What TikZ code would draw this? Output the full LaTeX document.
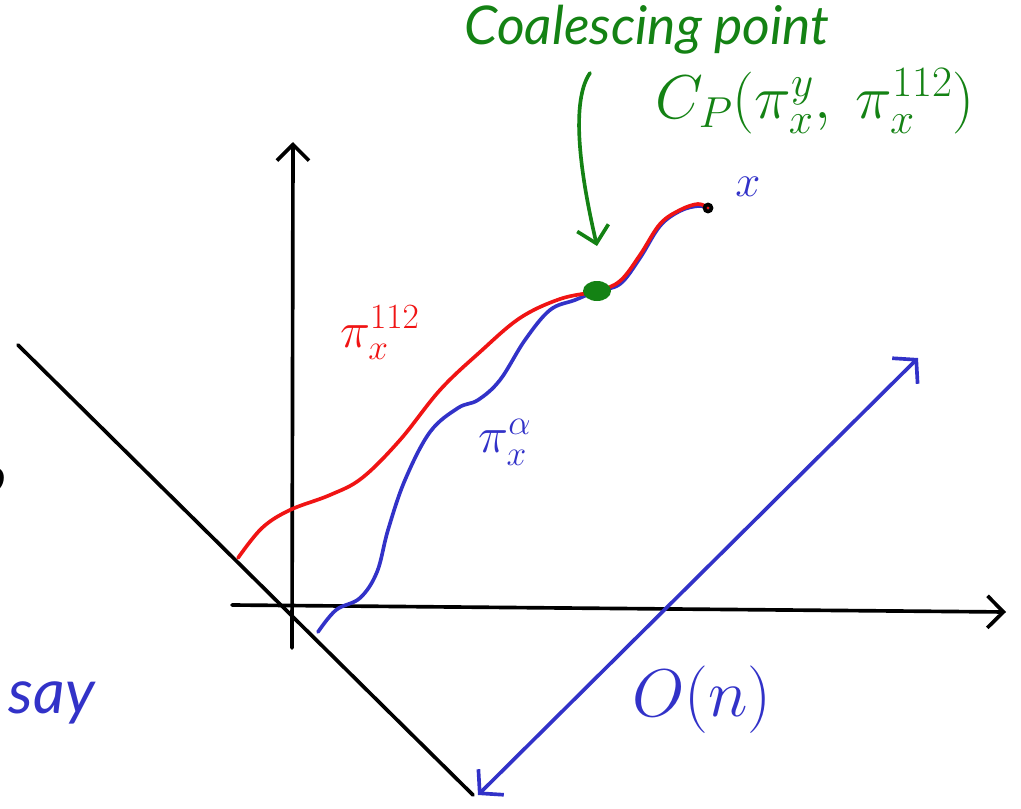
\RequirePackage{fix-cm}
\documentclass[tikz,border=0pt]{standalone}
\usepackage{fontspec}
\setmainfont{Lato}
\usetikzlibrary{arrows.meta}
\definecolor{penred}{RGB}{240,20,20}
\definecolor{penblue}{RGB}{50,50,200}
\definecolor{pengreen}{RGB}{20,130,20}
\tikzset{
  pen/.style={line width=2.6pt,line cap=round,line join=round},
  barb/.style={-{Straight Barb[length=4mm,width=8mm,line width=2.6pt]}},
  hand/.style={font=\itshape\fontsize{#1}{#1}\selectfont,inner sep=0pt},
}
\begin{document}
\begin{tikzpicture}[x=0.025cm,y=-0.025cm]
\useasboundingbox (0,0) rectangle (1021,809);

% ---- axes ----
\coordinate (O) at (292,608);
\coordinate (ybot) at (292,648);
\coordinate (ytop) at (293,142);
\coordinate (xleft) at (232,605);
\coordinate (xright) at (1006,612);
\draw[pen,barb] (ybot) -- (ytop);
\draw[pen,barb] (xleft) -- (xright);

% diagonal line through the origin
\coordinate (dtop) at (18,345);
\coordinate (dbot) at (473,795);
\draw[pen] (dtop) -- (dbot);

% ---- the scale O(n) (blue, both ways) ----
\coordinate (sA) at (478,795);
\coordinate (sB) at (918,358);
\draw[pen,penblue,{Straight Barb[length=4mm,width=9mm,line width=2.6pt]}-{Straight Barb[length=4mm,width=9mm,line width=2.6pt]}] (sA) -- (sB);
\node[hand=48,penblue] (order) at (702,700) {$O(n)$};
\node[hand=44,penblue] (say) at (52,703) {say};
\node[hand=34] (frag) at (-6,480) {o};

% ---- the two paths ----
\coordinate (X) at (708,208);
\coordinate (C) at (597,291);
\draw[pen,penblue] plot[smooth,tension=0.6] coordinates {
  (318,632) (336,610) (360,598) (377,572) (388,530) (405,480) (430,432)
  (458,408) (478,400) (500,380) (525,340) (550,310) (575,300) (C)
  (620,284) (640,258) (660,226) (680,211) (698,206) (X)};
\draw[pen,penred] plot[smooth,tension=0.6] coordinates {
  (238,558) (262,528) (290,510) (330,495) (362,478) (400,440) (440,390)
  (480,352) (520,318) (560,299) (C) (620,281) (640,255) (660,224)
  (680,210) (698,204) (X)};
\draw[line width=2.6pt] (X) circle (3.5);
\fill[pengreen] (C) ellipse (14 and 10);

% labels of the paths
\node[hand=36,penred] (pired) at (380,333) {$\pi^{112}_x$};
\node[hand=36,penblue] (piblue) at (505,442) {$\pi^{\alpha}_x$};
\node[hand=32,penblue] (xlab) at (748,187) {$x$};

% ---- coalescing point ----
\node[hand=38,pengreen] (title) at (647,30) {Coalescing point};
\node[hand=44,pengreen] (cp) at (815,101) {$C_P(\pi^y_x,\ \pi^{112}_x)$};
\coordinate (arrstart) at (590,73);
\coordinate (arrend) at (597,246);
\draw[pen,pengreen,barb] (arrstart) .. controls (568,105) and (584,190) .. (arrend);

\end{tikzpicture}
\end{document}
